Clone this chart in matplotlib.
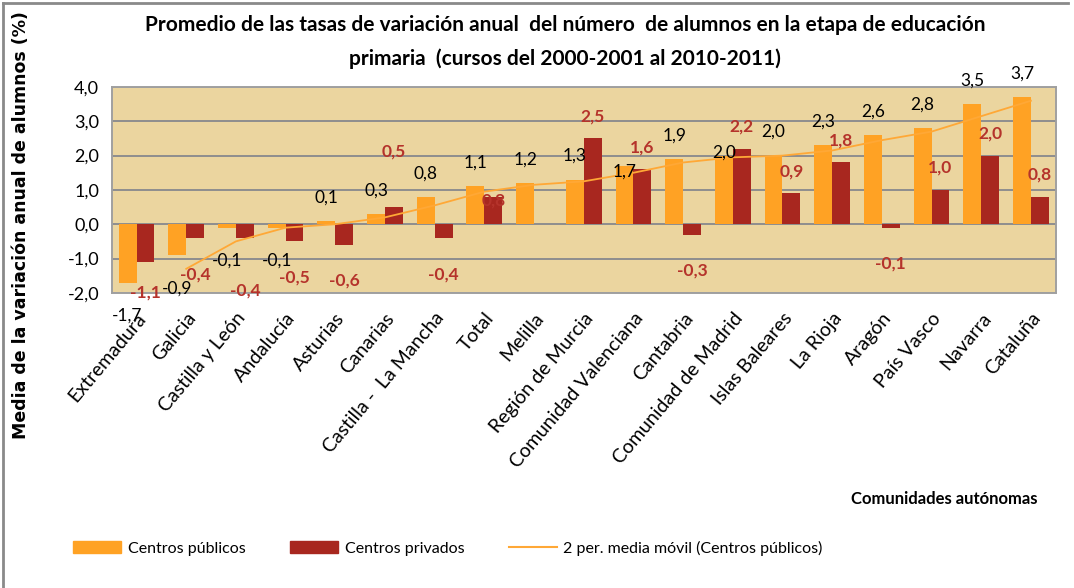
import numpy as np
import pandas as pd
import matplotlib
matplotlib.use("Agg")
import matplotlib.pyplot as plt
from matplotlib.patches import Patch
from matplotlib.lines import Line2D

# datos
comunidades = ["Extremadura", "Galicia", "Castilla y León", "Andalucía", "Asturias",
               "Canarias", "Castilla -  La Mancha", "Total", "Melilla", "Región de Murcia",
               "Comunidad Valenciana", "Cantabria", "Comunidad de Madrid", "Islas Baleares",
               "La Rioja", "Aragón", "País Vasco", "Navarra", "Cataluña"]
publicos = [-1.7, -0.9, -0.1, -0.1, 0.1, 0.3, 0.8, 1.1, 1.2, 1.3,
            1.7, 1.9, 2.0, 2.0, 2.3, 2.6, 2.8, 3.5, 3.7]
privados = [-1.1, -0.4, -0.4, -0.5, -0.6, 0.5, -0.4, 0.8, None, 2.5,
            1.6, -0.3, 2.2, 0.9, 1.8, -0.1, 1.0, 2.0, 0.8]

NARANJA = "#FFA224"
ROJO = "#A8271F"
ROJO_TXT = "#B5332B"
LINEA = "#FFA836"

# etiquetas movidas a mano en el original (desplazamiento en puntos)
ajuste_pub = {"Comunidad Valenciana": -4, "Comunidad de Madrid": 2}
ajuste_priv = {"Canarias": 40, "Total": -3, "Castilla y León": -38, "Extremadura": -22}

plt.rcParams["font.family"] = ["Lato", "DejaVu Sans"]

fig = plt.figure(figsize=(10.74, 5.88), dpi=100)
ax = fig.add_axes([0.104, 0.502, 0.879, 0.350])

x = np.arange(len(comunidades))
w = 0.36
pub = np.array(publicos, dtype=float)
priv = np.array([np.nan if v is None else v for v in privados])

ax.set_facecolor("#EBD59F")
ax.bar(x - w / 2, pub, w, color=NARANJA, zorder=3)
ax.bar(x + w / 2, np.nan_to_num(priv), w, color=ROJO, zorder=3)

# media móvil de 2 periodos
media = pd.Series(pub).rolling(2).mean()
ax.plot(x, media, color=LINEA, lw=1.3, zorder=4)


def fmt(v):
    return f"{v:.1f}".replace(".", ",")


for i, v in enumerate(pub):
    off = ajuste_pub.get(comunidades[i], 17 if v >= 0 else -24)
    ax.annotate(fmt(v), (x[i] - w / 2, v), xytext=(0, off), textcoords="offset points",
                ha="center", va="center", fontsize=12.5, color="black", zorder=5)
for i, v in enumerate(priv):
    if np.isnan(v):
        continue
    off = ajuste_priv.get(comunidades[i], 16 if v >= 0 else -26)
    ax.annotate(fmt(v), (x[i] + w / 2, v), xytext=(0, off), textcoords="offset points",
                ha="center", va="center", fontsize=12.5, color=ROJO_TXT,
                fontweight="bold", zorder=5)

ax.set_xlim(-0.5, len(comunidades) - 0.5)
ax.set_ylim(-2, 4)
ax.set_yticks(np.arange(-2, 4.1, 1))
ax.set_yticklabels([fmt(t) for t in np.arange(-2, 4.1, 1)], fontsize=13)
ax.yaxis.grid(True, color="#8E8E8E", lw=1.4, zorder=1)
ax.set_axisbelow(True)
ax.tick_params(axis="both", length=0, pad=9)
for s in ax.spines.values():
    s.set_color("#A0A0A0")
    s.set_linewidth(1.4)

ax.set_xticks(x)
ax.set_xticklabels(comunidades, rotation=50, ha="right", rotation_mode="anchor",
                   fontsize=14)
ax.tick_params(axis="x", pad=12)

ax.set_ylabel("Media de la variación anual de alumnos (%)", fontsize=12.5,
              fontweight="bold", family="DejaVu Sans")
ax.yaxis.set_label_coords(-0.087, 0.33)

fig.text(0.526, 0.957, "Promedio de las tasas de variación anual  del número  de alumnos en la etapa de educación",
         ha="center", va="center", fontsize=15, fontweight="bold")
fig.text(0.526, 0.900, "primaria  (cursos del 2000-2001 al 2010-2011)",
         ha="center", va="center", fontsize=15, fontweight="bold")
fig.text(0.966, 0.152, "Comunidades autónomas", ha="right", va="center",
         fontsize=12, fontweight="bold")

handles = [Patch(color=NARANJA), Patch(color=ROJO), Line2D([], [], color=LINEA, lw=1.5)]
labels = ["Centros públicos", "Centros privados", "2 per. media móvil (Centros públicos)"]
fig.legend(handles, labels, loc="center left", bbox_to_anchor=(0.055, 0.068), ncol=3,
           frameon=False, fontsize=11.5, handlelength=3.0, handleheight=0.8,
           columnspacing=2.8, handletextpad=0.4)

# marco del gráfico
fig.add_artist(Line2D([0.003, 0.003], [0, 0.995], color="#8A8A8A", lw=2,
                      transform=fig.transFigure))
fig.add_artist(Line2D([0.003, 0.994], [0.995, 0.995], color="#8A8A8A", lw=2,
                      transform=fig.transFigure))

fig.savefig("out.png", dpi=100)
